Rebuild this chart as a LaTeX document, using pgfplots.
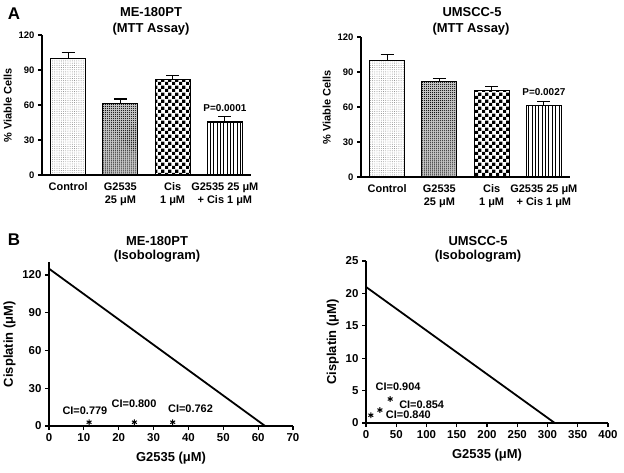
\documentclass[border=0pt]{standalone}
\usepackage{fontspec}
\setmainfont{Liberation Sans}
\usepackage{pgfplots}
\pgfplotsset{compat=1.18}
\usetikzlibrary{patterns,patterns.meta}

\pgfdeclarepatternformonly{smallcheck}{\pgfpointorigin}{\pgfpoint{6.6bp}{6.6bp}}{\pgfpoint{6.6bp}{6.6bp}}{%
  \pgfpathrectangle{\pgfpointorigin}{\pgfpoint{3.3bp}{3.3bp}}%
  \pgfpathrectangle{\pgfpoint{3.3bp}{3.3bp}}{\pgfpoint{3.3bp}{3.3bp}}%
  \pgfusepath{fill}}

\pgfplotsset{
  base/.style={
    scale only axis, axis lines*=left,
    axis line style={line width=1.2pt,-},
    tick style={line width=1.2pt, black},
    tick align=outside, major tick length=4bp,
    /pgf/number format/assume math mode=true,
    clip=false, anchor=south west,
  },
  barax/.style={
    base, ymin=0, ymax=120, ytick={0,30,60,90,120},
    xmin=-0.5, xmax=3.5, xtick={0,1,2,3},
    xticklabels={Control, G2535\\25 μM, Cis\\1 μM, G2535 25 μM\\+ Cis 1 μM},
    xticklabel style={align=center, font=\bfseries\fontsize{11}{13.5}\selectfont},
    yticklabel style={font=\bfseries\fontsize{9.5}{11}\selectfont},
    x tick style={draw=none},
    ylabel={\% Viable Cells},
    ylabel style={font=\bfseries\fontsize{11}{13}\selectfont},
    width=209bp, height=140bp,
    ybar, bar width=0.67, bar shift=0pt,
    error bars/y dir=plus, error bars/y explicit,
    error bars/error bar style={line width=1.2pt, black},
    error bars/error mark options={line width=1.2pt, black, mark size=6.5bp, rotate=90},
  },
  isoax/.style={
    base,
    ticklabel style={font=\bfseries\fontsize{11.5}{13}\selectfont},
    xlabel={G2535 (μM)}, ylabel={Cisplatin (μM)},
    label style={font=\bfseries\fontsize{13}{15}\selectfont},
    xlabel style={yshift=-4bp},
  },
  bar/.style={draw=black, line width=1.2pt},
  stars/.style={only marks, mark=asterisk, mark size=2.8bp, mark options={line width=1pt}},
}

\begin{document}
\begin{tikzpicture}
\useasboundingbox (0bp,0bp) rectangle (624bp,473bp);

% Panel letters
\node[font=\bfseries\fontsize{17}{19}\selectfont] at (14bp,459bp) {A};
\node[font=\bfseries\fontsize{17}{19}\selectfont] at (14bp,233bp) {B};

% Titles
\begin{scope}[every node/.style={font=\bfseries\fontsize{13}{15}\selectfont}]
\node at (151bp,461bp) {ME-180PT};
\node at (151bp,444bp) {(MTT Assay)};
\node at (472bp,461bp) {UMSCC-5};
\node at (471bp,444bp) {(MTT Assay)};
\node at (157bp,232bp) {ME-180PT};
\node at (157bp,217bp) {(Isobologram)};
\node at (478bp,232bp) {UMSCC-5};
\node at (478bp,217bp) {(Isobologram)};
\end{scope}

% A left
\begin{axis}[barax, at={(42bp,298bp)}]
\addplot[bar, pattern={Dots[radius=0.45pt, distance=2.2pt]}, pattern color=gray] coordinates {(0,100) +- (0,5)};
\addplot[bar, fill=gray!45, postaction={pattern={Dots[radius=0.55pt, distance=2pt]}, pattern color=black}] coordinates {(1,61.5) +- (0,3.7)};
\addplot[bar, pattern=smallcheck] coordinates {(2,81.7) +- (0,3.7)};
\addplot[bar, pattern={Lines[angle=90, distance=3.4pt, line width=0.5pt]}] coordinates {(3,45.5) +- (0,4.6)};
\node[font=\bfseries\fontsize{10}{12}\selectfont] at (axis cs:3,57.5) {P=0.0001};
\end{axis}

% A right
\begin{axis}[barax, at={(361bp,296bp)}]
\addplot[bar, pattern={Dots[radius=0.45pt, distance=2.2pt]}, pattern color=gray] coordinates {(0,100) +- (0,5)};
\addplot[bar, fill=gray!45, postaction={pattern={Dots[radius=0.55pt, distance=2pt]}, pattern color=black}] coordinates {(1,82) +- (0,2.6)};
\addplot[bar, pattern=smallcheck] coordinates {(2,74) +- (0,3.7)};
\addplot[bar, pattern={Lines[angle=90, distance=3.4pt, line width=0.5pt]}] coordinates {(3,61) +- (0,3.6)};
\node[font=\bfseries\fontsize{10}{12}\selectfont] at (axis cs:3,73) {P=0.0027};
\end{axis}

% B left
\begin{axis}[isoax, at={(49bp,47bp)}, width=244bp, height=163.6bp,
  xmin=0, xmax=70, ymin=0, ymax=130,
  xtick={0,10,...,70}, ytick={0,30,60,90,120}]
\addplot[line width=1.8pt, no marks] coordinates {(0,125) (62,0)};
\addplot[stars] coordinates {(11.5,3) (24.5,3) (35.5,3)};
\begin{scope}[every node/.style={font=\bfseries\fontsize{11}{13}\selectfont}]
\node at (axis cs:10.3,12) {CI=0.779};
\node at (axis cs:24.4,18) {CI=0.800};
\node at (axis cs:40.6,13.5) {CI=0.762};
\end{scope}
\end{axis}

% B right
\begin{axis}[isoax, at={(366bp,50bp)}, width=242bp, height=162bp,
  xmin=0, xmax=400, ymin=0, ymax=25,
  xtick={0,50,...,400}, ytick={0,5,...,25}]
\addplot[line width=1.8pt, no marks] coordinates {(0,21) (312,0)};
\addplot[stars] coordinates {(8,1.2) (23,2) (40,3.7)};
\begin{scope}[every node/.style={font=\bfseries\fontsize{11}{13}\selectfont}]
\node at (axis cs:53,5.6) {CI=0.904};
\node at (axis cs:92,2.8) {CI=0.854};
\node at (axis cs:70,1.2) {CI=0.840};
\end{scope}
\end{axis}
\end{tikzpicture}
\end{document}
